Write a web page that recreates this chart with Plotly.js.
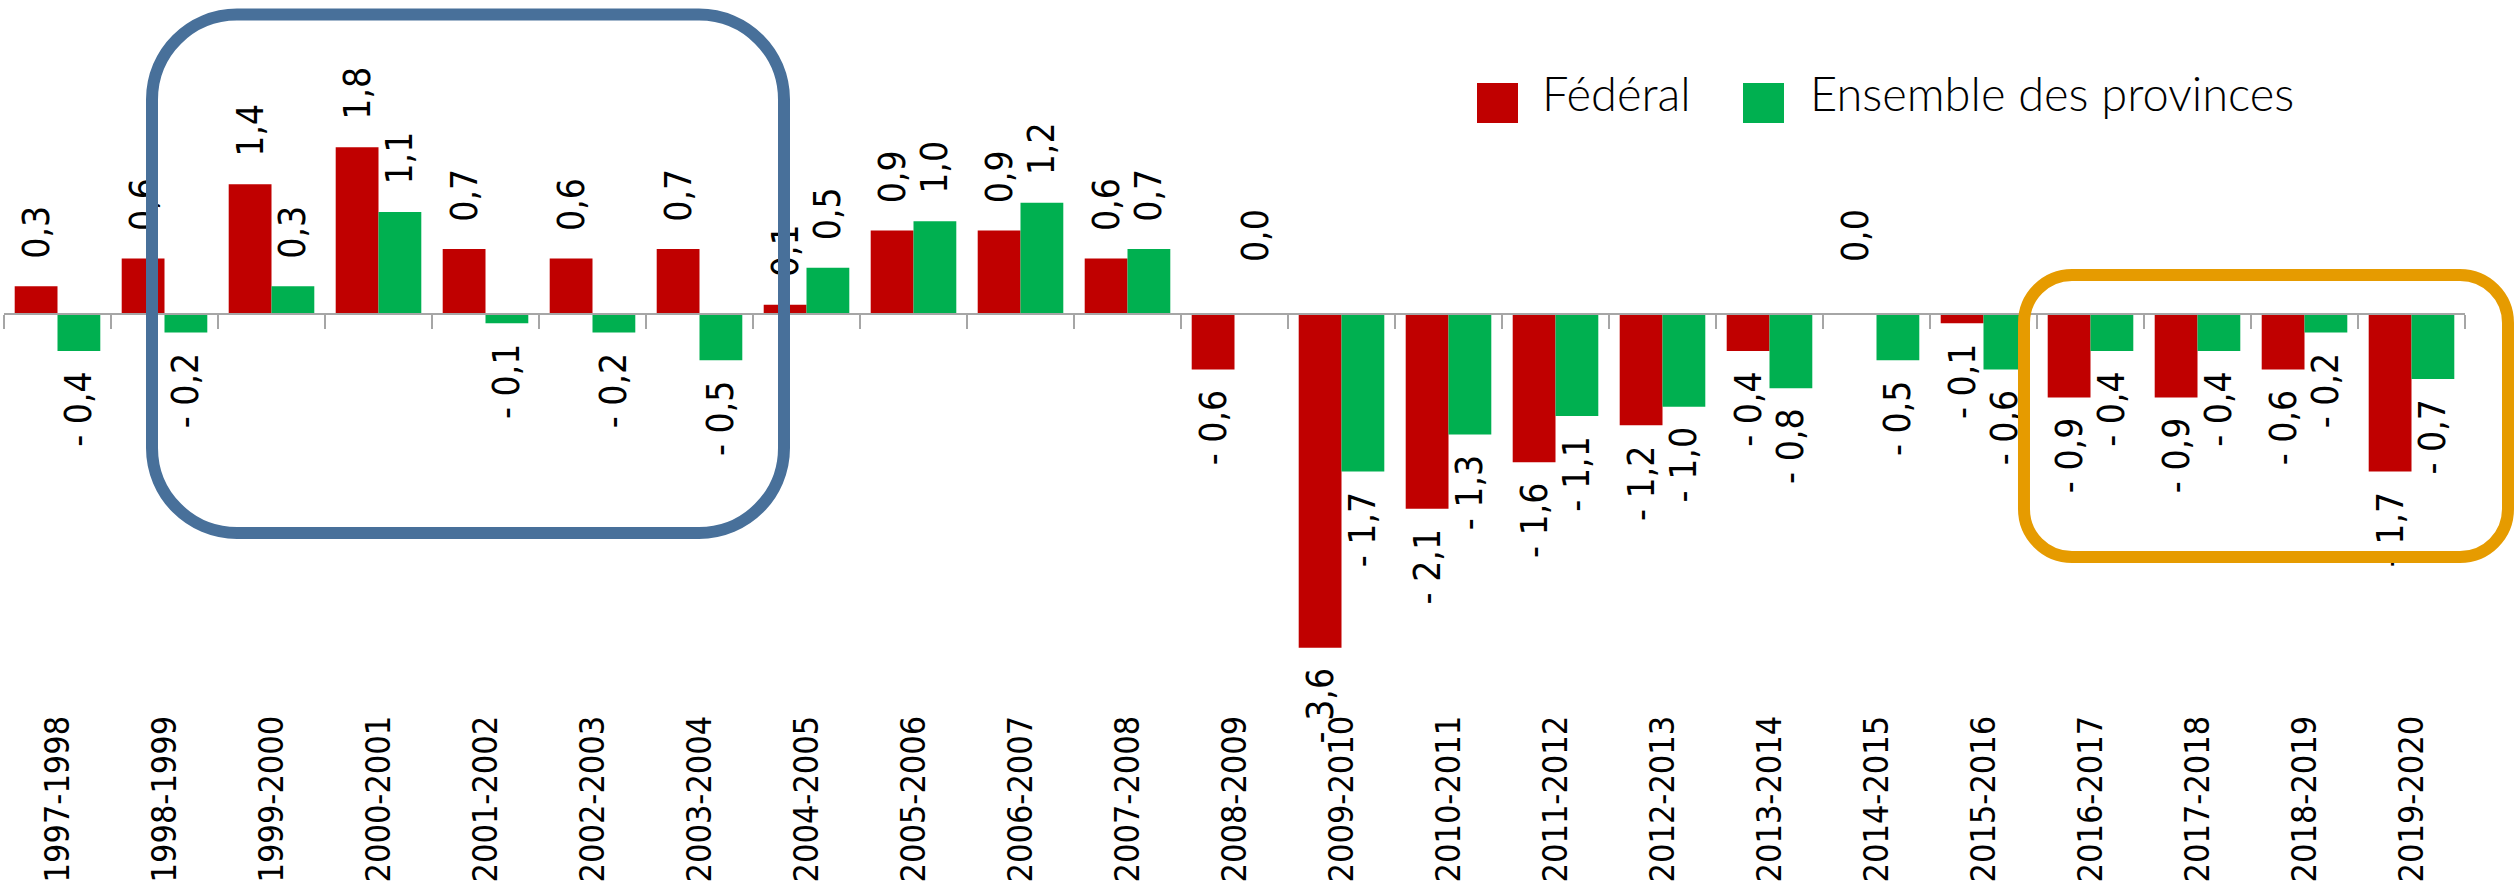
<!DOCTYPE html>
<html>
<head>
<meta charset="utf-8">
<script src="https://cdn.plot.ly/plotly-3.0.1.min.js"></script>
<style>
html,body{margin:0;padding:0;background:#ffffff;}
#chart{width:2514px;height:890px;}
</style>
</head>
<body>
<div id="chart"></div>
<script>
// ---------- data ----------
const categories = ['1997-1998','1998-1999','1999-2000','2000-2001','2001-2002','2002-2003','2003-2004','2004-2005','2005-2006','2006-2007','2007-2008','2008-2009','2009-2010','2010-2011','2011-2012','2012-2013','2013-2014','2014-2015','2015-2016','2016-2017','2017-2018','2018-2019','2019-2020'];
const federal   = [0.3, 0.6, 1.4, 1.8, 0.7, 0.6, 0.7, 0.1, 0.9, 0.9, 0.6, -0.6, -3.6, -2.1, -1.6, -1.2, -0.4, 0.0, -0.1, -0.9, -0.9, -0.6, -1.7];
const provinces = [-0.4, -0.2, 0.3, 1.1, -0.1, -0.2, -0.5, 0.5, 1.0, 1.2, 0.7, 0.0, -1.7, -1.3, -1.1, -1.0, -0.8, -0.5, -0.6, -0.4, -0.4, -0.2, -0.7];
const seriesNames = ['Fédéral', 'Ensemble des provinces'];

// ---------- style ----------
const COLORS = ['#C00000', '#00B050'];
const LABEL_FONT = 'DejaVu Sans Condensed, DejaVu Sans, sans-serif';
const LEGEND_FONT = 'Lato, Liberation Sans, sans-serif';
const W = 2514, H = 890;
const L = 4, R = 49, T = 0, B = 182;
const PW = W - L - R, PH = H - T - B;
const ZERO_PX = 314, K = 92.7;           // zero line position & px per unit
const yTop = (ZERO_PX - T) / K;
const yBot = -(T + PH - ZERO_PX) / K;
const zeroFrac = (0 - yBot) / (yTop - yBot);

const NB = '\u00A0', THIN = '\u2009', HAIR = '\u200A';
function fmt(v) {
  return (v < 0 ? '- ' : '') + Math.abs(v).toFixed(1).replace('.', ',');
}
function label(v) {
  if (v > 0) return NB + NB + HAIR + fmt(v);
  if (v < 0) return fmt(v) + NB + THIN;
  return NB + NB + NB + NB + THIN + fmt(v);
}

// pixel -> paper helpers (for decorations only)
const fx = p => (p - L) / PW;
const fy = p => (T + PH - p) / PH;
function roundRect(x0, y0, x1, y1, r) {
  const c = r * 0.5523;
  const P = (x, y) => fx(x) + ',' + fy(y);
  return 'M' + P(x0 + r, y0) +
    ' L' + P(x1 - r, y0) +
    ' C' + P(x1 - r + c, y0) + ' ' + P(x1, y0 + r - c) + ' ' + P(x1, y0 + r) +
    ' L' + P(x1, y1 - r) +
    ' C' + P(x1, y1 - r + c) + ' ' + P(x1 - r + c, y1) + ' ' + P(x1 - r, y1) +
    ' L' + P(x0 + r, y1) +
    ' C' + P(x0 + r - c, y1) + ' ' + P(x0, y1 - r + c) + ' ' + P(x0, y1 - r) +
    ' L' + P(x0, y0 + r) +
    ' C' + P(x0, y0 + r - c) + ' ' + P(x0 + r - c, y0) + ' ' + P(x0 + r, y0) + ' Z';
}

const series = [federal, provinces];
const traces = series.map((vals, i) => ({
  type: 'bar',
  name: seriesNames[i],
  x: categories,
  y: vals,
  xaxis: 'x',
  yaxis: 'y',
  marker: {color: COLORS[i], line: {width: 0}},
  text: vals.map(label),
  textposition: 'outside',
  textangle: -90,
  textfont: {family: LABEL_FONT, size: 37, color: '#000000', weight: 200},
  cliponaxis: false,
  constraintext: 'none',
  hoverinfo: 'x+y',
  showlegend: false
}));
// carrier trace for the zero-line axis (tick marks at category boundaries)
traces.push({
  type: 'scatter', mode: 'markers', x: categories, y: categories.map(() => 0),
  xaxis: 'x2', yaxis: 'y', marker: {opacity: 0, size: 1}, hoverinfo: 'skip', showlegend: false
});

// legend drawn as decorations
const legendItems = [
  {sq: [1477, 1518], tx: 1540},
  {sq: [1743, 1784], tx: 1808}
];
const shapes = [
  {type: 'path', xref: 'paper', yref: 'paper', path: roundRect(152, 14.5, 784, 533, 85),
   line: {color: '#48709A', width: 12}, fillcolor: 'rgba(0,0,0,0)', layer: 'above'},
  {type: 'path', xref: 'paper', yref: 'paper', path: roundRect(2024, 275, 2508, 557, 48),
   line: {color: '#E69B00', width: 12}, fillcolor: 'rgba(0,0,0,0)', layer: 'above'}
];
const annotations = [];
legendItems.forEach((it, i) => {
  shapes.push({type: 'rect', xref: 'paper', yref: 'paper',
    x0: fx(it.sq[0]), x1: fx(it.sq[1]), y0: fy(123), y1: fy(83),
    fillcolor: COLORS[i], line: {width: 0}, layer: 'above'});
  annotations.push({xref: 'paper', yref: 'paper', x: fx(it.tx), y: fy(93),
    xanchor: 'left', yanchor: 'middle', showarrow: false, text: seriesNames[i],
    font: {family: LEGEND_FONT, size: 47, color: '#000000', weight: 300}});
});

const layout = {
  width: W, height: H,
  margin: {l: L, r: R, t: T, b: B, pad: 0},
  paper_bgcolor: '#ffffff', plot_bgcolor: '#ffffff',
  barmode: 'group', bargap: 0.2, bargroupgap: 0,
  showlegend: false,
  xaxis: {
    type: 'category', categoryorder: 'array', categoryarray: categories,
    range: [-0.5, categories.length - 0.5],
    anchor: 'y', showline: false, ticks: '', showgrid: false, zeroline: false,
    tickangle: -90, automargin: false,
    tickfont: {family: LABEL_FONT, size: 34, color: '#000000', weight: 200}
  },
  xaxis2: {
    type: 'category', categoryorder: 'array', categoryarray: categories,
    range: [-0.5, categories.length - 0.5],
    overlaying: 'x', anchor: 'free', position: zeroFrac, side: 'bottom',
    showline: true, linecolor: '#A6A6A6', linewidth: 2,
    ticks: 'outside', tickson: 'boundaries', ticklen: 14, tickwidth: 2, tickcolor: '#A6A6A6',
    showticklabels: false, showgrid: false, zeroline: false, automargin: false
  },
  yaxis: {
    range: [yBot, yTop], showticklabels: false, showgrid: false, zeroline: false,
    showline: false, ticks: '', automargin: false
  },
  shapes: shapes,
  annotations: annotations
};

Plotly.newPlot('chart', traces, layout, {displayModeBar: false, staticPlot: true});
</script>
</body>
</html>
